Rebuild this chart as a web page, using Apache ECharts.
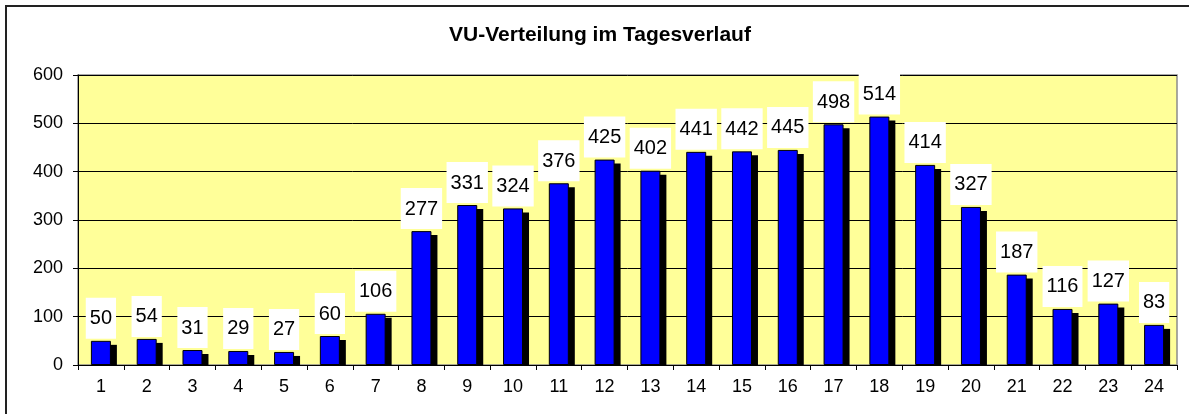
<!DOCTYPE html>
<html>
<head>
<meta charset="utf-8">
<script src="https://cdn.jsdelivr.net/npm/echarts@6/dist/echarts.min.js"></script>
<style>
html,body{margin:0;padding:0;background:#fff;}
#chart{width:1189px;height:414px;}
</style>
</head>
<body>
<div id="chart"></div>
<script>
const titleText = 'VU-Verteilung im Tagesverlauf';
const hours = ['1','2','3','4','5','6','7','8','9','10','11','12','13','14','15','16','17','18','19','20','21','22','23','24'];
const accidents = [50,54,31,29,27,60,106,277,331,324,376,425,402,441,442,445,498,514,414,327,187,116,127,83];
const yTicks = [0,100,200,300,400,500,600];

const font = '"Liberation Sans", Arial, sans-serif';
const chart = echarts.init(document.getElementById('chart'), null, {renderer:'canvas'});
const BAR_W = 20, SH_X = 6, SH_Y = 4;

chart.setOption({
  animation:false,
  backgroundColor:'#fff',
  graphic:[{
    type:'rect', z:-10, silent:true,
    shape:{x:6,y:6,width:1250,height:450},
    style:{fill:null,stroke:'#222',lineWidth:2}
  },{
    type:'text', x:600, y:35, z:10,
    style:{text:titleText, font:'bold 21px ' + font, fill:'#000', textAlign:'center', textVerticalAlign:'middle'}
  }],
  grid:{left:78,right:12,top:75,bottom:49,show:true,backgroundColor:'#FFFF99',borderColor:'#8c8c8c',borderWidth:1.5},
  xAxis:{
    type:'category', data:hours, boundaryGap:true,
    axisLine:{show:true,lineStyle:{color:'#000',width:1}},
    axisTick:{show:true,length:5,alignWithLabel:false,lineStyle:{color:'#000'}},
    axisLabel:{color:'#000',fontSize:18,fontFamily:font,margin:13,interval:0}
  },
  yAxis:{
    type:'value', min:yTicks[0], max:yTicks[yTicks.length-1], interval:100,
    axisLine:{show:true,lineStyle:{color:'#000',width:1}},
    axisTick:{show:true,length:5,lineStyle:{color:'#000'}},
    axisLabel:{color:'#000',fontSize:18,fontFamily:font,margin:15},
    splitLine:{show:true,lineStyle:{color:'#000',width:1}}
  },
  series:[{
    type:'custom', z:1, silent:true,
    data: accidents.map((v,i)=>[i,v]),
    renderItem:function(params, api){
      const top = api.coord([api.value(0), api.value(1)]);
      const base = api.coord([api.value(0), 0]);
      return {type:'rect', shape:{x:top[0]-BAR_W/2+SH_X, y:top[1]+SH_Y, width:BAR_W, height:base[1]-top[1]-SH_Y}, style:{fill:'#000'}};
    }
  },{
    type:'bar', z:3, data:accidents, barWidth:BAR_W,
    itemStyle:{color:'#0000FF',borderColor:'#000',borderWidth:1},
    label:{show:true,position:'top',distance:2,color:'#000',fontSize:20,fontFamily:font,
      backgroundColor:'#fff',padding:[11,4,10,4]}
  }]
});
</script>
</body>
</html>
